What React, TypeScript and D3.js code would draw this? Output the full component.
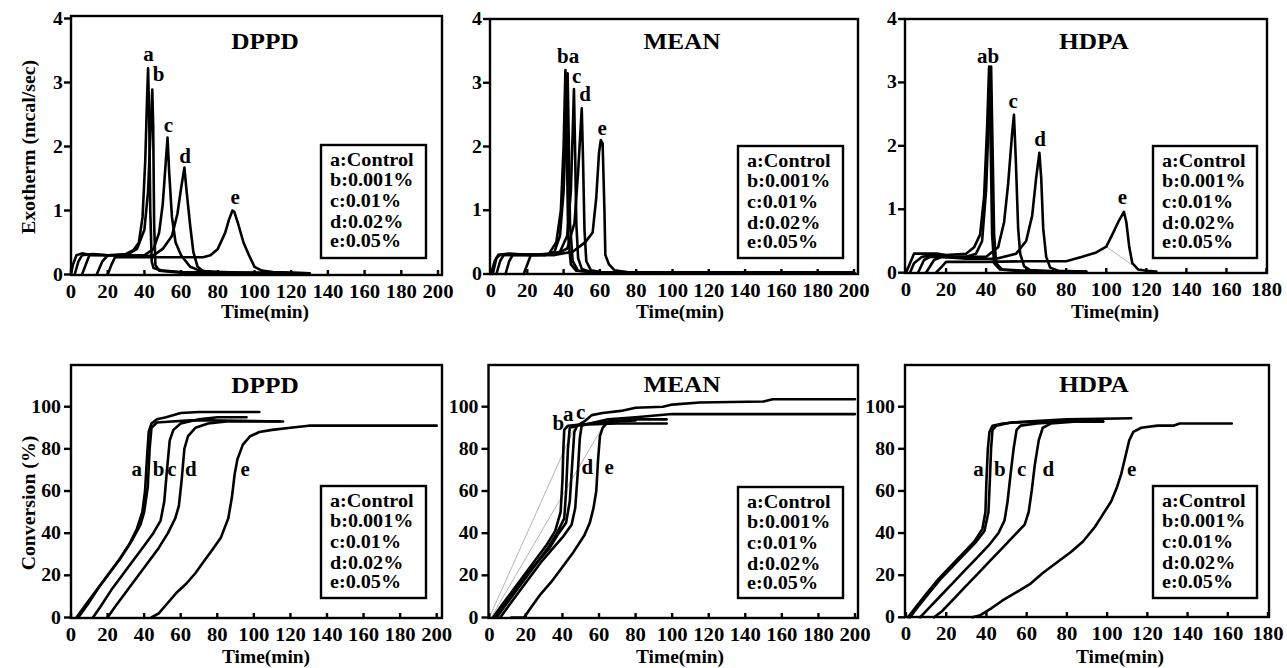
import React from "react";
import * as d3 from "d3";

type Pt = [number, number];

const FONT = "Liberation Serif, Times New Roman, Times, serif";

const LEGEND_LINES = ["a:Control", "b:0.001%", "c:0.01%", "d:0.02%", "e:0.05%"];
const TIME_TICKS_200 = [0, 20, 40, 60, 80, 100, 120, 140, 160, 180, 200];
const TIME_TICKS_180 = [0, 20, 40, 60, 80, 100, 120, 140, 160, 180];
const EXO_TICKS = [0, 1, 2, 3, 4];
const CONV_TICKS = [0, 20, 40, 60, 80, 100];

// ---- Exotherm, DPPD ----
const dppdExoA: Pt[] = [[0, 0], [1, 0.15], [3, 0.3], [6, 0.33], [10, 0.31], [20, 0.3], [30, 0.32], [34, 0.38], [37, 0.5], [39, 0.9], [40.5, 1.8], [41.5, 2.8], [42, 3.22], [42.6, 2.5], [43.2, 1.0], [44, 0.2], [45, 0.1], [50, 0.06], [60, 0.04], [80, 0.03], [100, 0.03], [130, 0.02]];
const dppdExoB: Pt[] = [[2, 0], [4, 0.2], [6, 0.3], [12, 0.32], [20, 0.3], [30, 0.3], [36, 0.4], [40, 0.7], [42, 1.3], [43.3, 2.2], [44.3, 2.89], [44.8, 2.3], [45.3, 0.8], [46, 0.15], [48, 0.06], [60, 0.03], [90, 0.02], [115, 0.02]];
const dppdExoC: Pt[] = [[6, 0], [8, 0.15], [10, 0.3], [20, 0.3], [30, 0.3], [40, 0.3], [45, 0.4], [48, 0.65], [50, 1.1], [51.5, 1.7], [52.6, 2.14], [53.5, 1.6], [55, 0.9], [57, 0.5], [60, 0.3], [65, 0.12], [70, 0.06], [80, 0.03], [100, 0.02]];
const dppdExoD: Pt[] = [[14, 0], [17, 0.2], [20, 0.3], [30, 0.3], [40, 0.28], [45, 0.3], [50, 0.4], [55, 0.6], [58, 0.95], [60, 1.35], [61.8, 1.67], [63, 1.3], [65, 0.75], [66.7, 0.35], [69, 0.12], [72, 0.05], [90, 0.03], [110, 0.02]];
const dppdExoE: Pt[] = [[20, 0], [22, 0.15], [24, 0.27], [40, 0.27], [60, 0.27], [72, 0.27], [76, 0.3], [80, 0.4], [84, 0.65], [86, 0.85], [88, 1.0], [89, 0.98], [91, 0.8], [94, 0.5], [97, 0.3], [100, 0.12], [104, 0.06], [110, 0.04], [120, 0.03], [130, 0.02]];

// ---- Exotherm, MEAN ----
const meanExoA: Pt[] = [[0, 0], [2, 0.2], [4, 0.3], [10, 0.32], [20, 0.3], [30, 0.3], [35, 0.35], [38, 0.6], [40, 1.3], [41.5, 2.5], [42.2, 3.15], [42.8, 2.2], [43.5, 0.8], [45, 0.2], [48, 0.05], [60, 0.03], [100, 0.02], [200, 0.02]];
const meanExoB: Pt[] = [[1, 0], [3, 0.25], [5, 0.3], [15, 0.3], [25, 0.3], [32, 0.32], [36, 0.5], [38.5, 1.0], [40, 2.0], [41, 3.2], [41.8, 2.0], [42.5, 0.6], [44, 0.15], [47, 0.05], [60, 0.02], [200, 0.02]];
const meanExoC: Pt[] = [[3, 0], [5, 0.2], [7, 0.3], [20, 0.3], [30, 0.3], [38, 0.35], [42, 0.6], [44, 1.3], [45.2, 2.4], [45.7, 2.9], [46.3, 2.0], [47, 0.8], [48, 0.25], [50, 0.08], [55, 0.03], [200, 0.02]];
const meanExoD: Pt[] = [[8, 0], [10, 0.2], [12, 0.3], [25, 0.3], [35, 0.3], [42, 0.4], [46, 0.8], [48, 1.6], [49.4, 2.3], [50, 2.6], [50.7, 1.8], [51.5, 0.7], [52.5, 0.2], [55, 0.06], [60, 0.03], [200, 0.02]];
const meanExoE: Pt[] = [[18, 0], [20, 0.15], [22, 0.3], [35, 0.3], [45, 0.35], [52, 0.5], [56, 0.65], [58, 1.2], [59.5, 1.9], [60.5, 2.1], [61.5, 2.05], [62.5, 1.0], [63, 0.3], [65, 0.15], [68, 0.06], [75, 0.03], [200, 0.02]];

// ---- Exotherm, HDPA ----
const hdpaExoA: Pt[] = [[0, 0], [2, 0.15], [4, 0.3], [10, 0.3], [16, 0.3], [20, 0.28], [30, 0.3], [34, 0.4], [37, 0.6], [39, 1.2], [40.5, 2.3], [41.5, 3.25], [42.3, 2.0], [43, 0.6], [44, 0.15], [47, 0.05], [60, 0.02], [80, 0.02]];
const hdpaExoB: Pt[] = [[2, 0], [4, 0.15], [8, 0.25], [14, 0.28], [20, 0.25], [30, 0.25], [35, 0.3], [38, 0.5], [40, 1.3], [41.5, 2.6], [42.5, 3.25], [43.2, 2.0], [44, 0.6], [45, 0.15], [48, 0.05], [60, 0.03], [90, 0.02]];
const hdpaExoC: Pt[] = [[6, 0], [9, 0.2], [12, 0.25], [25, 0.25], [40, 0.25], [46, 0.4], [49, 0.8], [51, 1.4], [53, 2.2], [53.9, 2.49], [54.8, 1.8], [56, 0.7], [57, 0.3], [59, 0.1], [62, 0.04], [75, 0.02]];
const hdpaExoD: Pt[] = [[10, 0], [14, 0.2], [18, 0.25], [30, 0.22], [45, 0.22], [55, 0.3], [60, 0.5], [63, 0.9], [65, 1.5], [66.6, 1.89], [67.5, 1.5], [68.5, 0.7], [70, 0.25], [72, 0.08], [76, 0.03], [90, 0.02]];
const hdpaExoE: Pt[] = [[15, 0], [18, 0.1], [20, 0.17], [40, 0.17], [60, 0.18], [80, 0.18], [88, 0.25], [95, 0.32], [100, 0.41], [103, 0.6], [106, 0.8], [108.8, 0.96], [110, 0.8], [111.5, 0.4], [113, 0.15], [116, 0.05], [120, 0.03], [125, 0.02]];
const hdpaExoGray: Pt[] = [[100, 0.41], [113, 0.12]];

// ---- Conversion, DPPD ----
const dppdConvA: Pt[] = [[3, 0], [8, 6], [14, 13], [20, 20], [26, 27], [32, 35], [36, 42], [39, 50], [40.5, 60], [41.5, 75], [42.5, 88], [44, 92], [47, 94], [52, 95], [60, 97], [70, 97.5], [103, 97.5]];
const dppdConvB: Pt[] = [[4, 0], [9, 6], [15, 14], [21, 21], [27, 28], [33, 36], [38, 44], [40, 50], [42, 62], [43, 80], [44, 90], [47, 92.5], [55, 93], [65, 93.5], [75, 93.5], [116, 93]];
const dppdConvC: Pt[] = [[12, 0], [16, 5], [22, 13], [28, 20], [34, 27], [40, 34], [45, 40], [49, 46], [51, 55], [52.5, 70], [54, 84], [56, 89], [60, 92], [70, 94], [80, 95], [96, 95]];
const dppdConvD: Pt[] = [[20, 0], [24, 5], [30, 12], [36, 19], [42, 26], [48, 33], [53, 40], [57, 47], [59, 53], [60.5, 65], [62, 80], [64, 86], [68, 90], [75, 92], [85, 93], [114, 93]];
const dppdConvE: Pt[] = [[44, 0], [48, 2], [53, 7], [58, 12], [63, 16], [68, 21], [73, 27], [78, 33], [82, 38], [86, 47], [88, 57], [89.5, 68], [91, 75], [94, 82], [98, 86], [103, 88], [110, 89], [120, 90], [130, 91], [160, 91], [200, 91]];

// ---- Conversion, MEAN ----
const meanConvA: Pt[] = [[3, 0], [8, 6], [14, 13], [20, 20], [26, 26], [32, 33], [37, 40], [41, 47], [42, 60], [43, 80], [44, 90], [48, 91], [55, 92], [65, 94], [80, 95], [100, 96.5], [140, 96.5], [200, 96.5]];
const meanConvB: Pt[] = [[2, 0], [7, 6], [13, 13], [19, 20], [25, 27], [31, 34], [36, 41], [39, 50], [40, 65], [40.5, 80], [41, 89], [43, 91], [50, 91.5], [70, 92], [97, 92]];
const meanConvC: Pt[] = [[4, 0], [9, 6], [15, 13], [21, 20], [27, 27], [33, 33], [38, 40], [42, 45], [44, 55], [45.5, 75], [46.5, 88], [48, 91], [52, 93], [56, 96], [62, 97], [72, 98], [80, 99.5], [95, 100], [100, 101], [115, 102], [150, 102.5], [155, 103.5], [200, 103.5]];
const meanConvD: Pt[] = [[6, 0], [11, 6], [17, 13], [23, 20], [29, 27], [35, 33], [40, 38], [45, 44], [47, 52], [48.5, 70], [49.5, 85], [50.5, 91], [55, 92], [65, 93], [80, 94], [97, 94]];
const meanConvE: Pt[] = [[12, 0], [19, 0], [23, 5], [28, 11], [34, 17], [40, 24], [46, 31], [52, 39], [55, 45], [57, 52], [58.5, 60], [59.5, 75], [60.5, 86], [62, 90], [64, 92], [70, 93], [80, 93.5]];
const meanConvGray1: Pt[] = [[0, 0], [47, 91]];
const meanConvGray2: Pt[] = [[1, 0], [63, 92]];

// ---- Conversion, HDPA ----
const hdpaConvA: Pt[] = [[1, 0], [5, 5], [10, 11], [16, 18], [22, 24], [28, 30], [34, 36], [38, 42], [39.5, 50], [40, 65], [40.7, 80], [41.5, 88], [43, 91], [48, 92], [60, 93], [80, 94], [112, 94.5]];
const hdpaConvB: Pt[] = [[2, 0], [6, 5], [11, 11], [17, 18], [23, 24], [29, 30], [35, 36], [39, 41], [41, 50], [41.7, 65], [42.3, 80], [43, 89], [45, 91], [52, 92.5], [70, 93], [98, 93]];
const hdpaConvC: Pt[] = [[7, 0], [11, 4], [17, 10], [23, 16], [29, 22], [35, 28], [41, 34], [46, 40], [49, 46], [50.5, 55], [52, 68], [53.5, 80], [55, 89], [57, 91], [65, 92], [80, 93], [98, 93]];
const hdpaConvD: Pt[] = [[14, 0], [18, 3], [24, 9], [30, 15], [36, 21], [42, 27], [48, 33], [54, 39], [59, 44], [61, 50], [62.5, 60], [64, 72], [66, 84], [68, 90], [72, 92], [85, 93], [98, 93]];
const hdpaConvE: Pt[] = [[33, 0], [37, 1], [42, 4], [48, 8], [55, 12], [62, 16], [68, 21], [75, 26], [82, 31], [88, 36], [94, 43], [98, 49], [102, 55], [105, 62], [107, 68], [109, 76], [111, 84], [113, 88], [117, 90], [125, 91], [133, 91], [136, 92], [150, 92], [162, 92]];

// curve letters [text, time, value]
const dppdExoTags: [string, number, number][] = [["a", 42.2, 3.34], ["b", 47.7, 3.02], ["c", 53.1, 2.23], ["d", 62.2, 1.75], ["e", 89.4, 1.1]];
const meanExoTags: [string, number, number][] = [["ba", 42.5, 3.31], ["c", 47.2, 3.0], ["d", 51.8, 2.71], ["e", 61.2, 2.18]];
const hdpaExoTags: [string, number, number][] = [["ab", 41, 3.3], ["c", 53.5, 2.59], ["d", 66.9, 1.99], ["e", 108.1, 1.08]];
const dppdConvTags: [string, number, number][] = [["a", 36, 67], ["b", 47.9, 67], ["c", 55.2, 67], ["d", 65.6, 67], ["e", 95.2, 67]];
const meanConvTags: [string, number, number][] = [["b", 37.7, 89], ["a", 43.2, 93.2], ["c", 50, 94], ["d", 53.6, 68], ["e", 65.5, 68]];
const hdpaConvTags: [string, number, number][] = [["a", 36, 67], ["b", 46.7, 67], ["c", 57.5, 67], ["d", 70.8, 67], ["e", 112.2, 67]];

function T({ x, y, size, sx = 1.1, anchor = "middle", rotate = 0, children }: any) {
  const tr = `translate(${x},${y})${rotate ? ` rotate(${rotate})` : ""} scale(${sx},1)`;
  return (
    <text transform={tr} textAnchor={anchor} style={{ fontFamily: FONT, fontWeight: 700, fontSize: size }} fill="#000">
      {children}
    </text>
  );
}

function Panel({ p }: any) {
  const x = d3.scaleLinear().domain([0, p.xMax]).range([p.x0, p.x1]);
  const y = d3.scaleLinear().domain([0, p.yRef]).range([p.y0, p.y1]);
  const line = d3.line<Pt>().x(d => x(d[0])).y(d => y(d[1]));
  const b = p.box;
  const lg = p.legend;
  const legendBase = [21, 41, 62, 82.5, 102];
  return (
    <g>
      {p.gray.map((s: Pt[], i: number) => (
        <path key={"g" + i} d={line(s) || ""} fill="none" stroke="#b5b5b5" strokeWidth={1} />
      ))}
      {p.series.map((s: Pt[], i: number) => (
        <path key={i} d={line(s) || ""} fill="none" stroke="#000" strokeWidth={2.6} strokeLinejoin="round" strokeLinecap="round" />
      ))}
      <rect x={b.l} y={b.t} width={b.r - b.l} height={b.b - b.t} fill="none" stroke="#000" strokeWidth={2.4} />
      {p.xTicks.map((t: number) => (
        <g key={"x" + t}>
          <line x1={x(t)} x2={x(t)} y1={b.b} y2={b.b - 5} stroke="#000" strokeWidth={2.4} />
          <T x={x(t)} y={b.b + 23} size={18} sx={1.15}>{t}</T>
        </g>
      ))}
      {p.yTicks.map((v: number) => (
        <g key={"y" + v}>
          <line x1={b.l} x2={b.l - 7} y1={y(v)} y2={y(v)} stroke="#000" strokeWidth={2.4} />
          <T x={b.l - p.yLabelGap} y={y(v) + 6} size={18} anchor="end">{v}</T>
        </g>
      ))}
      <T x={p.titleX} y={p.titleY} size={23}>{p.title}</T>
      <T x={p.xTitleX} y={p.xTitleY} size={18} sx={1.08}>Time(min)</T>
      {p.yTitle && <T x={35} y={p.yTitleY} size={18} rotate={-90}>{p.yTitle}</T>}
      <rect x={lg.x} y={lg.y} width={lg.w} height={lg.h} fill="#fff" stroke="#000" strokeWidth={2.4} />
      {LEGEND_LINES.map((s, i) => (
        <T key={s} x={lg.x + 9} y={lg.y + legendBase[i]} size={18} sx={1.12} anchor="start">{s}</T>
      ))}
      {p.tags.map(([s, t, v]: [string, number, number]) => (
        <T key={s + t} x={x(t)} y={y(v)} size={20} sx={1.05}>{s}</T>
      ))}
    </g>
  );
}

const panels = [
  {
    title: "DPPD", titleX: 265, titleY: 49, xTitleX: 265, xTitleY: 318, yTitle: "Exotherm (mcal/sec)", yTitleY: 147,
    box: { l: 71, r: 442, t: 16, b: 275 }, x0: 71, x1: 438, xMax: 200, y0: 274.5, y1: 18.5, yRef: 4, yLabelGap: 8,
    xTicks: TIME_TICKS_200, yTicks: EXO_TICKS, legend: { x: 321, y: 145, w: 105, h: 113 },
    series: [dppdExoA, dppdExoB, dppdExoC, dppdExoD, dppdExoE], gray: [], tags: dppdExoTags,
  },
  {
    title: "MEAN", titleX: 682, titleY: 49, xTitleX: 680, xTitleY: 318, yTitle: null, yTitleY: 0,
    box: { l: 490, r: 858, t: 19, b: 274 }, x0: 491, x1: 854, xMax: 200, y0: 274, y1: 19, yRef: 4, yLabelGap: 8,
    xTicks: TIME_TICKS_200, yTicks: EXO_TICKS, legend: { x: 738, y: 146, w: 105, h: 112 },
    series: [meanExoA, meanExoB, meanExoC, meanExoD, meanExoE], gray: [], tags: meanExoTags,
  },
  {
    title: "HDPA", titleX: 1094, titleY: 49, xTitleX: 1115, xTitleY: 318, yTitle: null, yTitleY: 0,
    box: { l: 905, r: 1267, t: 19, b: 273 }, x0: 906, x1: 1266.5, xMax: 180, y0: 272.7, y1: 19, yRef: 4, yLabelGap: 8,
    xTicks: TIME_TICKS_180, yTicks: EXO_TICKS, legend: { x: 1153, y: 146, w: 104, h: 112 },
    series: [hdpaExoA, hdpaExoB, hdpaExoC, hdpaExoD, hdpaExoE], gray: [hdpaExoGray], tags: hdpaExoTags,
  },
  {
    title: "DPPD", titleX: 265, titleY: 393, xTitleX: 266, xTitleY: 663, yTitle: "Conversion (%)", yTitleY: 503,
    box: { l: 71, r: 442, t: 365, b: 618 }, x0: 71, x1: 436.7, xMax: 200, y0: 617.5, y1: 406.7, yRef: 100, yLabelGap: 10,
    xTicks: TIME_TICKS_200, yTicks: CONV_TICKS, legend: { x: 321, y: 486, w: 105, h: 112 },
    series: [dppdConvA, dppdConvB, dppdConvC, dppdConvD, dppdConvE], gray: [], tags: dppdConvTags,
  },
  {
    title: "MEAN", titleX: 682, titleY: 392, xTitleX: 680, xTitleY: 663, yTitle: null, yTitleY: 0,
    box: { l: 488.5, r: 858, t: 365, b: 618 }, x0: 489.3, x1: 855, xMax: 200, y0: 617.5, y1: 406.7, yRef: 100, yLabelGap: 10,
    xTicks: TIME_TICKS_200, yTicks: CONV_TICKS, legend: { x: 738, y: 487, w: 105, h: 111 },
    series: [meanConvA, meanConvB, meanConvC, meanConvD, meanConvE], gray: [meanConvGray1, meanConvGray2], tags: meanConvTags,
  },
  {
    title: "HDPA", titleX: 1094, titleY: 392, xTitleX: 1120, xTitleY: 663, yTitle: null, yTitleY: 0,
    box: { l: 905, r: 1269, t: 365, b: 617 }, x0: 906, x1: 1268, xMax: 180, y0: 617.3, y1: 406.7, yRef: 100, yLabelGap: 10,
    xTicks: TIME_TICKS_180, yTicks: CONV_TICKS, legend: { x: 1153, y: 486, w: 104, h: 112 },
    series: [hdpaConvA, hdpaConvB, hdpaConvC, hdpaConvD, hdpaConvE], gray: [], tags: hdpaConvTags,
  },
];

export default function App() {
  return (
    <svg width={1287} height={668} style={{ position: "absolute", left: 0, top: 0, background: "#fff" }}>
      <rect x={0} y={0} width={1287} height={668} fill="#fff" />
      {panels.map((p, i) => <Panel key={i} p={p} />)}
    </svg>
  );
}
